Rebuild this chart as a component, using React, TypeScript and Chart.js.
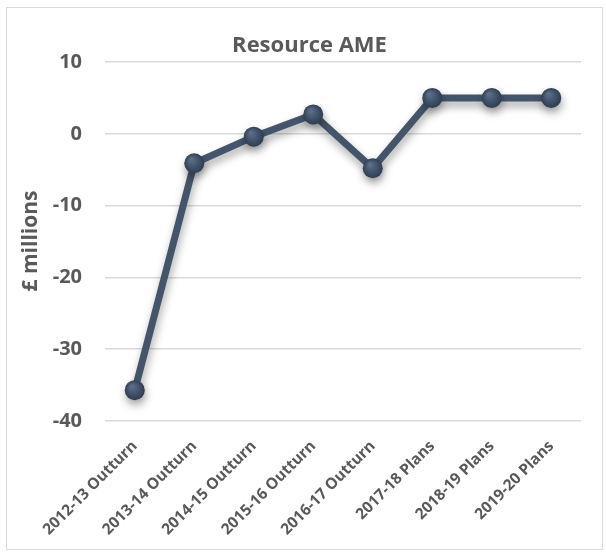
import React, { useEffect, useRef } from "react";
import { Chart, registerables } from "chart.js";

Chart.register(...registerables);

const categories = [
  "2012-13 Outturn",
  "2013-14 Outturn",
  "2014-15 Outturn",
  "2015-16 Outturn",
  "2016-17 Outturn",
  "2017-18 Plans",
  "2018-19 Plans",
  "2019-20 Plans",
];
const resourceAME = [-35.7, -4.1, -0.4, 2.7, -4.8, 5.0, 5.0, 5.0];
const yMin = -40;
const yMax = 10;
const yStep = 10;
const chartTitle = "Resource AME";
const yAxisTitle = "£ millions";

const FONT = "'Open Sans', Lato, sans-serif";
const TEXT = "#595959";
const LINE = "#44546A";

const decorPlugin = {
  id: "decor",
  beforeDraw(chart: any) {
    const { ctx, width, height } = chart;
    ctx.save();
    ctx.fillStyle = "#ffffff";
    ctx.fillRect(0, 0, width, height);
    ctx.strokeStyle = "#d9d9d9";
    ctx.lineWidth = 1;
    ctx.strokeRect(6.5, 7.5, 596, 542);
    ctx.fillStyle = TEXT;
    ctx.font = `bold 22px ${FONT}`;
    ctx.textAlign = "center";
    ctx.textBaseline = "alphabetic";
    ctx.fillText(chartTitle, 309.5, 52);
    ctx.translate(37, 241);
    ctx.rotate(-Math.PI / 2);
    ctx.font = `bold 21px ${FONT}`;
    ctx.fillText(yAxisTitle, 0, 0);
    ctx.restore();
  },
  beforeDatasetsDraw(chart: any) {
    const ctx = chart.ctx;
    ctx.save();
    ctx.shadowColor = "rgba(0,0,0,0.35)";
    ctx.shadowBlur = 8;
    ctx.shadowOffsetX = 1;
    ctx.shadowOffsetY = 5;
  },
  afterDatasetsDraw(chart: any) {
    chart.ctx.restore();
  },
};

export default function App() {
  const ref = useRef<HTMLCanvasElement | null>(null);
  useEffect(() => {
    document.body.style.margin = "0";
    const canvas = ref.current;
    if (!canvas) return;
    const chart = new Chart(canvas, {
      type: "line",
      data: {
        labels: categories,
        datasets: [
          {
            label: chartTitle,
            data: resourceAME,
            borderColor: LINE,
            borderWidth: 7,
            pointRadius: 10,
            pointBorderWidth: 0,
            pointBorderColor: LINE,
            pointBackgroundColor: (c: any) => {
              const ch = c.chart;
              const xs = ch.scales?.x;
              const ys = ch.scales?.y;
              if (!xs || !ys || c.type !== "data") return "#3f5068";
              const x = xs.getPixelForValue(c.dataIndex);
              const y = ys.getPixelForValue(c.raw);
              if (!isFinite(x) || !isFinite(y)) return "#3f5068";
              const g = ch.ctx.createRadialGradient(x - 3, y - 4, 1, x, y, 10);
              g.addColorStop(0, "#5b6e88");
              g.addColorStop(0.6, "#3f5068");
              g.addColorStop(1, "#2f3d51");
              return g;
            },
            tension: 0,
          },
        ],
      },
      options: {
        responsive: false,
        animation: false,
        layout: { padding: { top: 62, right: 25, left: 0, bottom: 0 } },
        plugins: {
          legend: { display: false },
          title: { display: false },
          tooltip: { enabled: false },
        },
        scales: {
          x: {
            offset: true,
            grid: { display: false, drawTicks: false },
            border: { display: false },
            ticks: {
              minRotation: 45,
              maxRotation: 45,
              autoSkip: false,
              padding: 16,
              color: TEXT,
              font: { family: FONT, size: 15.5, weight: "bold" },
            },
            afterFit(scale: any) {
              scale.height = 132;
            },
          },
          y: {
            min: yMin,
            max: yMax,
            grid: { color: "#d9d9d9", lineWidth: 1.5, drawTicks: false },
            border: { display: false },
            ticks: {
              stepSize: yStep,
              padding: 23,
              color: TEXT,
              font: { family: FONT, size: 20, weight: "bold" },
            },
            afterFit(scale: any) {
              scale.width = 105;
            },
          },
        },
      },
      plugins: [decorPlugin],
    });
    return () => chart.destroy();
  }, []);
  return (
    <div style={{ width: 606, height: 553 }}>
      <canvas ref={ref} width={606} height={553} style={{ display: "block" }} />
    </div>
  );
}
